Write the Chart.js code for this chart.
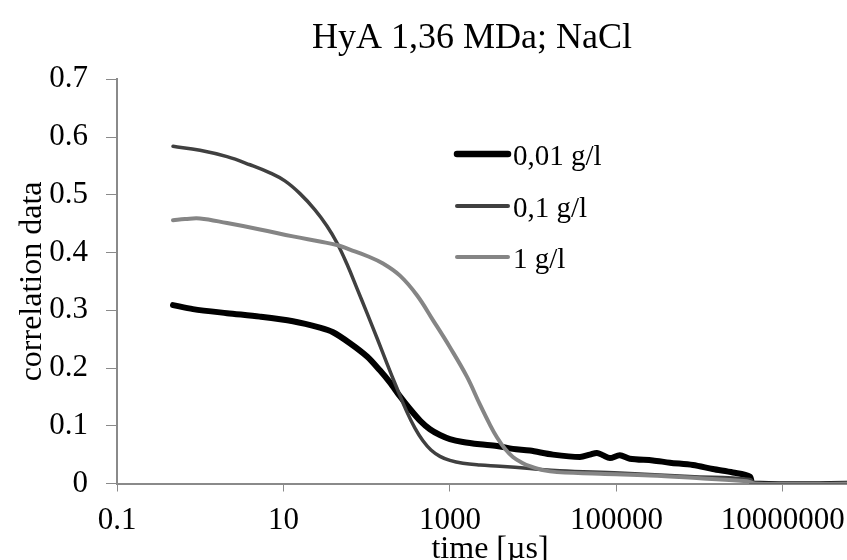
<!DOCTYPE html>
<html>
<head>
<meta charset="utf-8">
<script src="https://cdn.jsdelivr.net/npm/chart.js@4/dist/chart.umd.min.js"></script>
<style>
  html, body { margin: 0; padding: 0; background: #ffffff; }
  canvas { display: block; }
</style>
</head>
<body>
<canvas id="c" width="847" height="560"></canvas>
<script>
// ---------------- data ----------------
const chartTitle = 'HyA 1,36 MDa; NaCl';
const xAxisTitle = 'time [\u00b5s]';
const yAxisTitle = 'correlation data';
const seriesNames = ['0,01 g/l', '0,1 g/l', '1 g/l'];

// 0,01 g/l
const time001 = [0.471, 0.818, 2.10, 5.22, 13.0, 27.4, 39.4, 62.9, 101, 144, 190, 251, 331, 437, 575, 759, 1000, 1432, 2291, 3670, 5710, 9140, 17300, 36500, 48100, 58300, 68900, 83600, 110000, 145000, 274000, 440000, 830000, 1440000, 2510000, 4020000, 4360000, 100000000];
const corr001 = [0.309, 0.302, 0.295, 0.289, 0.281, 0.270, 0.262, 0.243, 0.220, 0.196, 0.175, 0.151, 0.129, 0.109, 0.094, 0.084, 0.077, 0.072, 0.068, 0.065, 0.060, 0.057, 0.050, 0.046, 0.050, 0.053, 0.049, 0.044, 0.049, 0.043, 0.040, 0.036, 0.032, 0.025, 0.019, 0.012, 0, 0];

// 0,1 g/l
const time01 = [0.471, 0.993, 2.10, 3.96, 6.88, 10.4, 15.8, 23.9, 33.3, 43.9, 57.9, 76.4, 101, 133, 175, 231, 304, 380, 474, 592, 759, 1000, 1432, 2291, 3990, 9140, 20900, 110000, 764000, 4020000, 4610000, 100000000];
const corr01 = [0.584, 0.577, 0.566, 0.552, 0.538, 0.524, 0.502, 0.474, 0.446, 0.417, 0.380, 0.338, 0.295, 0.252, 0.208, 0.165, 0.124, 0.096, 0.074, 0.058, 0.047, 0.040, 0.035, 0.032, 0.030, 0.026, 0.022, 0.018, 0.012, 0.007, 0, 0];

// 1 g/l
const time1 = [0.471, 0.656, 0.993, 2.10, 5.22, 13.0, 27.4, 43.9, 62.9, 101, 157, 251, 402, 625, 1000, 1600, 2291, 3020, 3670, 4580, 5710, 7330, 9140, 15900, 63400, 252000, 1010000, 3700000, 4610000, 100000000];
const corr1 = [0.456, 0.458, 0.459, 0.451, 0.440, 0.428, 0.419, 0.413, 0.405, 0.394, 0.381, 0.360, 0.326, 0.283, 0.236, 0.185, 0.137, 0.102, 0.080, 0.060, 0.046, 0.036, 0.030, 0.021, 0.017, 0.014, 0.009, 0.004, 0, 0];

const xTickValues = [0.1, 10, 1000, 100000, 10000000];
const xTickLabels = ['0.1', '10', '1000', '100000', '10000000'];
const yTickValues = [0, 0.1, 0.2, 0.3, 0.4, 0.5, 0.6, 0.7];
const yTickLabels = ['0', '0.1', '0.2', '0.3', '0.4', '0.5', '0.6', '0.7'];

// ---------------- chart ----------------
const FONT = "'Liberation Serif', 'Times New Roman', serif";
const AXIS_GRAY = '#8a8a8a';

function toPoints(xs, ys) { return xs.map((x, i) => ({ x: x, y: ys[i] })); }

const titlePlugin = {
  id: 'customTitles',
  afterDraw(chart) {
    const ctx = chart.ctx;
    ctx.save();
    ctx.fillStyle = '#000';
    ctx.textAlign = 'center';
    ctx.textBaseline = 'alphabetic';
    ctx.font = '36px ' + FONT;
    ctx.fillText(chartTitle, 472, 48);
    ctx.font = '32px ' + FONT;
    ctx.fillText(xAxisTitle, 490, 558);
    ctx.restore();
  }
};

const legendPlugin = {
  id: 'customLegend',
  afterDraw(chart) {
    const ctx = chart.ctx;
    const rowY = [154, 206, 257];
    ctx.save();
    chart.data.datasets.forEach((ds, i) => {
      const y = rowY[i];
      ctx.beginPath();
      ctx.lineCap = 'round';
      ctx.strokeStyle = ds.borderColor;
      ctx.lineWidth = ds.legendWidth;
      ctx.moveTo(457, y);
      ctx.lineTo(508, y);
      ctx.stroke();
      ctx.font = '29px ' + FONT;
      ctx.fillStyle = '#000';
      ctx.textAlign = 'left';
      ctx.textBaseline = 'alphabetic';
      ctx.fillText(ds.label, 513, y + 11);
    });
    ctx.restore();
  }
};

new Chart(document.getElementById('c'), {
  type: 'line',
  data: {
    datasets: [
      { label: seriesNames[0], data: toPoints(time001, corr001), borderColor: '#000000', borderWidth: 6, legendWidth: 6.5, order: 3, tension: 0.3 },
      { label: seriesNames[1], data: toPoints(time01, corr01), borderColor: '#404040', borderWidth: 3.5, legendWidth: 4, order: 2, tension: 0.4 },
      { label: seriesNames[2], data: toPoints(time1, corr1), borderColor: '#858585', borderWidth: 4, legendWidth: 4, order: 1, tension: 0.4 }
    ]
  },
  options: {
    responsive: false,
    animation: false,
    devicePixelRatio: 1,
    elements: {
      point: { radius: 0, hoverRadius: 0 },
      line: { fill: false, cubicInterpolationMode: 'default', capBezierPoints: true, borderCapStyle: 'round', borderJoinStyle: 'round' }
    },
    layout: { padding: { top: 79.3, left: 0, right: 0, bottom: 0 } },
    plugins: {
      legend: { display: false },
      title: { display: false },
      tooltip: { enabled: false }
    },
    scales: {
      x: {
        type: 'logarithmic',
        position: 'bottom',
        min: 0.1,
        max: 59000000,
        afterBuildTicks(scale) { scale.ticks = xTickValues.map(v => ({ value: v })); },
        afterFit(scale) { scale.height = 560 - 483.5; scale.paddingLeft = 0; scale.paddingRight = 0; },
        ticks: {
          autoSkip: false,
          maxRotation: 0,
          minRotation: 0,
          padding: 10.5,
          color: '#000',
          font: { family: FONT, size: 31 },
          callback(value) {
            const i = xTickValues.findIndex(v => Math.abs(Math.log10(v) - Math.log10(value)) < 1e-6);
            return i >= 0 ? xTickLabels[i] : '';
          }
        },
        grid: { drawOnChartArea: false, drawTicks: true, tickLength: 8, tickColor: AXIS_GRAY, tickWidth: 1 },
        border: { display: true, color: AXIS_GRAY, width: 2 },
        title: { display: false }
      },
      y: {
        type: 'linear',
        position: 'left',
        min: 0,
        max: 0.7,
        afterBuildTicks(scale) { scale.ticks = yTickValues.map(v => ({ value: v })); },
        afterFit(scale) { scale.width = 117; scale.paddingTop = 0; scale.paddingBottom = 0; },
        ticks: {
          padding: 18,
          color: '#000',
          font: { family: FONT, size: 31 },
          callback(value) {
            const i = yTickValues.findIndex(v => Math.abs(v - value) < 1e-9);
            return i >= 0 ? yTickLabels[i] : '';
          }
        },
        grid: { drawOnChartArea: false, drawTicks: true, tickLength: 11, tickColor: AXIS_GRAY, tickWidth: 1 },
        border: { display: true, color: AXIS_GRAY, width: 2 },
        title: { display: true, text: yAxisTitle, color: '#000', font: { family: FONT, size: 32 }, padding: { top: 13, bottom: 0 } }
      }
    }
  },
  plugins: [titlePlugin, legendPlugin]
});
</script>
</body>
</html>
